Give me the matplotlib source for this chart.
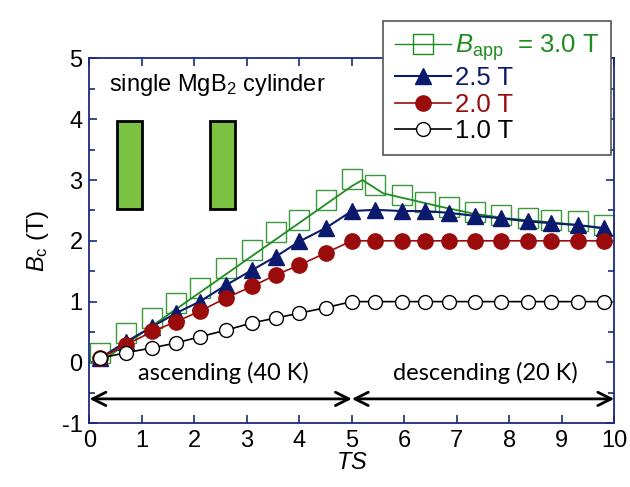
import numpy as np
import matplotlib
matplotlib.use("Agg")
import matplotlib.pyplot as plt
from matplotlib.patches import Rectangle
from matplotlib.ticker import MultipleLocator

plt.rcParams['font.family'] = ['Liberation Sans', 'DejaVu Sans']
plt.rcParams['mathtext.fontset'] = 'custom'
plt.rcParams['mathtext.rm'] = 'Liberation Sans'
plt.rcParams['mathtext.it'] = 'Liberation Sans:italic'
plt.rcParams['axes.unicode_minus'] = False

# TS steps: ascending (40 K) then descending (20 K)
ts_asc = [0.2, 0.7, 1.2, 1.65, 2.1, 2.6, 3.1, 3.55, 4.0, 4.5, 5.0]
ts_desc = [5.45, 5.95, 6.4, 6.85, 7.35, 7.85, 8.35, 8.8, 9.3, 9.8]
ts = ts_asc + ts_desc

bc_30 = [0.15, 0.48, 0.73, 0.97, 1.22, 1.55, 1.85, 2.15, 2.34, 2.67, 3.02,
         2.92, 2.76, 2.64, 2.56, 2.48, 2.43, 2.38, 2.34, 2.32, 2.26]
bc_25 = [0.07, 0.34, 0.59, 0.81, 1.0, 1.27, 1.52, 1.74, 1.99, 2.21, 2.49,
         2.51, 2.49, 2.49, 2.46, 2.41, 2.37, 2.32, 2.29, 2.26, 2.21]
bc_20 = [0.07, 0.29, 0.51, 0.67, 0.84, 1.06, 1.25, 1.44, 1.6, 1.8, 2.0,
         2.0, 2.0, 2.0, 2.0, 2.0, 2.0, 2.0, 2.0, 2.0, 2.0]
bc_10 = [0.07, 0.16, 0.24, 0.32, 0.42, 0.53, 0.65, 0.73, 0.81, 0.9, 1.0,
         1.0, 1.0, 1.0, 1.0, 1.0, 1.0, 1.0, 1.0, 1.0, 1.0]

# guide line drawn through the 3.0 T data
fit_ts = [0.2, 5.0, 5.2, 5.6, 6.2, 6.7, 7.3, 7.95, 8.6, 9.2, 9.8]
fit_30 = [0.0, 2.9, 3.0, 2.78, 2.66, 2.56, 2.45, 2.37, 2.32, 2.27, 2.2]

green = '#1e8c1e'
navy = '#0c1a6e'
red = '#9a0c0c'
axcol = '#1a2a80'

fig = plt.figure(figsize=(6.3, 4.87), dpi=100)
ax = fig.add_axes([0.142, 0.131, 0.833, 0.749])

ax.plot(fit_ts, fit_30, '-', color=green, lw=1.3, zorder=3)
ax.plot(ts, bc_30, 's', ms=14, mfc='none', mec='#3a9a3a', mew=1.0, zorder=2)
h30, = ax.plot([], [], '-s', color=green, ms=14, mfc='none', mec=green, mew=1.0, lw=1.0)
h25, = ax.plot(ts, bc_25, '-^', color=navy, ms=12, lw=1.5, zorder=4)
h20, = ax.plot(ts, bc_20, '-o', color=red, ms=11, lw=1.2, zorder=5)
h10, = ax.plot(ts, bc_10, '-o', color='black', ms=10, mfc='white', mew=1.0, lw=1.2, zorder=6)

# two MgB2 cylinders
for x0 in [0.52, 2.29]:
    ax.add_patch(Rectangle((x0, 2.52), 0.49, 1.45, facecolor='#7cc242',
                           edgecolor='black', lw=2, zorder=2))
ax.text(0.38, 4.56, r'single MgB$_2$ cylinder', fontsize=17, va='center', ha='left')

# heating stages
arrow = dict(arrowstyle='<->', lw=2, color='black', mutation_scale=24, shrinkA=0, shrinkB=0)
ax.annotate('', xy=(0, -0.6), xytext=(5, -0.6), arrowprops=arrow)
ax.annotate('', xy=(5, -0.6), xytext=(10, -0.6), arrowprops=arrow)
ax.text(2.55, -0.17, 'ascending (40 K)', fontsize=17, family='Lato', ha='center', va='center')
ax.text(7.55, -0.17, 'descending (20 K)', fontsize=17, family='Lato', ha='center', va='center')

ax.set_xlim(0, 10)
ax.set_ylim(-1, 5)
ax.xaxis.set_major_locator(MultipleLocator(1))
ax.yaxis.set_major_locator(MultipleLocator(1))
ax.yaxis.set_minor_locator(MultipleLocator(0.5))
ax.tick_params(which='both', direction='in', top=True, right=True, colors=axcol,
               labelcolor='black', labelsize=17, width=1.2)
ax.tick_params(which='major', length=6, pad=5)
ax.tick_params(which='minor', length=4)
for s in ax.spines.values():
    s.set_color(axcol)
    s.set_linewidth(1.3)

ax.set_xlabel(r'$TS$', fontsize=17, labelpad=0)
ax.set_ylabel(r'$B_\mathrm{c}$ (T)', fontsize=17, labelpad=8)

leg = fig.legend([h30, h25, h20, h10],
                 [r'$B_\mathrm{app}$  = 3.0 T', '2.5 T', '2.0 T', '1.0 T'],
                 loc='upper left', bbox_to_anchor=(0.588, 0.983), fontsize=18.5,
                 labelcolor=[green, navy, red, 'black'], handlelength=2.2,
                 handletextpad=0.15, labelspacing=0.1, borderpad=0.45,
                 fancybox=False, framealpha=1, edgecolor='#555555')
leg.get_frame().set_linewidth(1.2)

fig.savefig('out.png', dpi=100)
